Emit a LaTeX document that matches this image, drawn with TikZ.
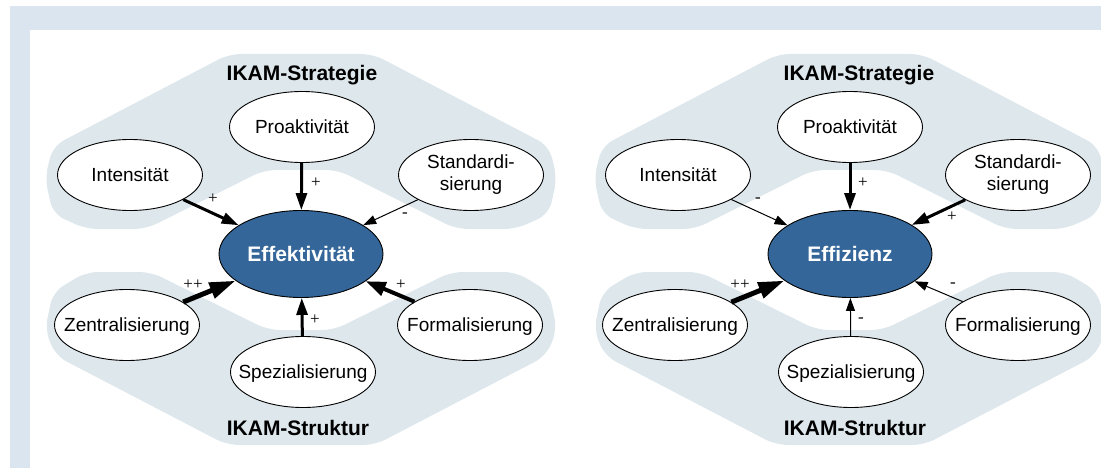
\documentclass[tikz,border=0pt]{standalone}
\usepackage{fontspec}
\setmainfont{Liberation Sans}
\newfontfamily\signfont{Liberation Serif}
\usetikzlibrary{shapes.geometric,arrows.meta}
\definecolor{frameblue}{RGB}{219,229,239}
\definecolor{blobcol}{RGB}{221,231,236}
\definecolor{centerblue}{RGB}{52,102,153}
\tikzset{
  oval/.style={draw=black, line width=0.9pt, fill=white, ellipse, minimum width=145pt, minimum height=71pt, inner sep=0pt},
  centeroval/.style={draw=black, line width=0.9pt, fill=centerblue, ellipse, minimum width=164pt, minimum height=87pt, inner sep=0pt},
  lbl/.style={font=\fontsize{19}{22}\selectfont, align=center, inner sep=0pt, text height=13.6pt, text depth=0pt},
  lbltwo/.style={font=\fontsize{19}{22}\selectfont, align=center, inner sep=0pt},
  ctxt/.style={font=\fontsize{21}{24}\selectfont\bfseries, text=white, inner sep=0pt, text height=15pt, text depth=0pt},
  grp/.style={font=\fontsize{21}{24}\selectfont\bfseries, inner sep=0pt, anchor=base},
  sign/.style={font=\signfont\fontsize{17}{19}\selectfont, inner sep=0pt},
  blob/.style={fill=blobcol, rounded corners=12pt},
  wa/.style={line width=1pt, -{Triangle[length=13pt,width=9pt]}},
  wc/.style={line width=3pt, -{Triangle[length=17pt,width=11pt]}},
  wd/.style={line width=4pt, -{Triangle[length=20pt,width=14pt]}},
  we/.style={line width=5pt, -{Triangle[length=26pt,width=16pt]}},
}
\begin{document}
\begin{tikzpicture}[x=1pt,y=-1pt]
\useasboundingbox (0,0) rectangle (1101,468);
\clip (0,0) rectangle (1101,468);
% frame
\fill[frameblue] (10,6) rectangle (1101,30);
\fill[frameblue] (10,6) rectangle (30,468);
% blobs
\foreach \cx in {301,850} {
  \fill[blob, shift={(\cx,0)}] (-72,54) -- (72,54) -- (248,146) -- (256,178) -- (248,214) -- (215,229) -- (155,229) -- (37,170) -- (-37,170) -- (-155,229) -- (-215,229) -- (-248,214) -- (-256,178) -- (-248,146) -- cycle;
  \fill[blob, shift={(\cx,0)}] (-215,272) -- (-150,272) -- (-33,330) -- (33,330) -- (150,272) -- (215,272) -- (248,292) -- (256,330) -- (245,356) -- (74,445) -- (-74,445) -- (-245,356) -- (-256,330) -- (-248,292) -- cycle;
}
% ---------- left diagram ----------
\node[oval] (LPro) at (302,127) {};
\node[oval] (LInt) at (130,175) {};
\node[oval] (LStd) at (471,175) {};
\node[centeroval] (LEff) at (301,254) {};
\node[oval] (LZen) at (127,325) {};
\node[oval] (LSpe) at (303,372) {};
\node[oval] (LFor) at (470,325) {};
\node[lbl] (LProT) at (LPro) {Proaktivität};
\node[lbl] (LIntT) at (LInt) {Intensität};
\node[lbltwo] (LStdT) at (LStd) {Standardi-\\sierung};
\node[ctxt] (LEffT) at (LEff) {Effektivität};
\node[lbl] (LZenT) at (LZen) {Zentralisierung};
\node[lbl] (LSpeT) at (LSpe) {Spezialisierung};
\node[lbl] (LForT) at (LFor) {Formalisierung};
\node[grp] (LStrat) at (302,81) {IKAM-Strategie};
\node[grp] (LStruk) at (298,435) {IKAM-Struktur};
\draw[wc] (LInt) -- (LEff);
\draw[wc] (LPro) -- (LEff);
\draw[wa] (LStd) -- (LEff);
\draw[we] (LZen) -- (LEff);
\draw[wc] (LSpe) -- (LEff);
\draw[wd] (LFor) -- (LEff);
\node[sign] (LsInt) at (213,199) {+};
\node[sign] (LsPro) at (316,183) {+};
\node[sign] (LsStd) at (405,215) {-};
\node[sign] (LsZen) at (193,285) {++};
\node[sign] (LsSpe) at (315,320) {+};
\node[sign] (LsFor) at (401,285) {+};
% ---------- right diagram ----------
\node[oval] (RPro) at (850,127) {};
\node[oval] (RInt) at (678,175) {};
\node[oval] (RStd) at (1018,175) {};
\node[centeroval] (REff) at (850,254) {};
\node[oval] (RZen) at (675,325) {};
\node[oval] (RSpe) at (851,372) {};
\node[oval] (RFor) at (1018,325) {};
\node[lbl] (RProT) at (RPro) {Proaktivität};
\node[lbl] (RIntT) at (RInt) {Intensität};
\node[lbltwo] (RStdT) at (RStd) {Standardi-\\sierung};
\node[ctxt] (REffT) at (REff) {Effizienz};
\node[lbl] (RZenT) at (RZen) {Zentralisierung};
\node[lbl] (RSpeT) at (RSpe) {Spezialisierung};
\node[lbl] (RForT) at (RFor) {Formalisierung};
\node[grp] (RStrat) at (859,81) {IKAM-Strategie};
\node[grp] (RStruk) at (855,435) {IKAM-Struktur};
\draw[wa] (RInt) -- (REff);
\draw[wc] (RPro) -- (REff);
\draw[wc] (RStd) -- (REff);
\draw[we] (RZen) -- (REff);
\draw[wa] (RSpe) -- (REff);
\draw[wa] (RFor) -- (REff);
\node[sign] (RsInt) at (758,200) {-};
\node[sign] (RsPro) at (863,183) {+};
\node[sign] (RsStd) at (952,217) {+};
\node[sign] (RsZen) at (740,285) {++};
\node[sign] (RsSpe) at (861,320) {-};
\node[sign] (RsFor) at (953,285) {-};
\end{tikzpicture}
\end{document}
